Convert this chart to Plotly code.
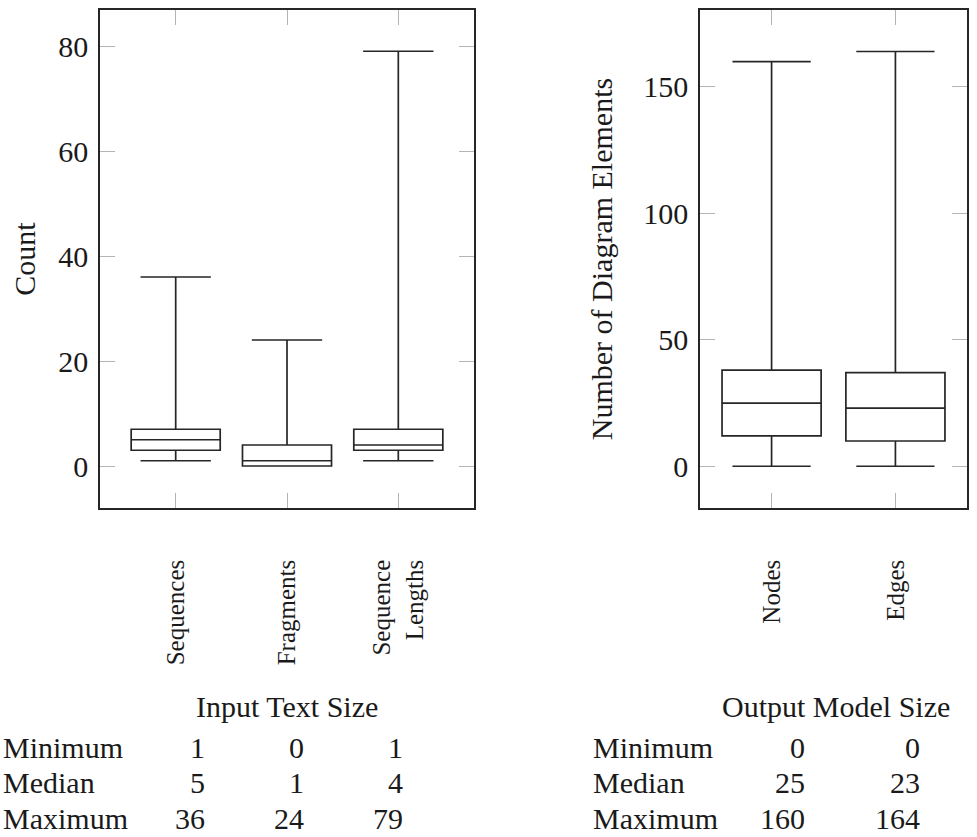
import plotly.graph_objects as go

# Input text size statistics
input_labels = ["Sequences", "Fragments", "Sequence<br>Lengths"]
input_min = [1, 0, 1]
input_q1 = [3, 0, 3]
input_median = [5, 1, 4]
input_q3 = [7, 4, 7]
input_max = [36, 24, 79]

# Output model size statistics
output_labels = ["Nodes", "Edges"]
output_min = [0, 0]
output_q1 = [12, 10]
output_median = [25, 23]
output_q3 = [38, 37]
output_max = [160, 164]

row_names = ["Minimum", "Median", "Maximum"]

W, H = 977, 837
FONT = "Liberation Serif"
INK = "#262626"
TICK = "#b4b4b4"
MAIN_SIZE = 30

fig = go.Figure()


def px_x(p):
    return p / W


def px_y(p):
    return 1 - p / H


box_style = dict(
    fillcolor="white",
    line=dict(color=INK, width=1.7),
    whiskerwidth=0.79,
    width=0.8,
    boxpoints=False,
    showlegend=False,
    hoverinfo="skip",
)

fig.add_trace(go.Box(
    x=list(range(1, len(input_labels) + 1)),
    lowerfence=input_min, q1=input_q1, median=input_median,
    q3=input_q3, upperfence=input_max,
    xaxis="x", yaxis="y", **box_style,
))
fig.add_trace(go.Box(
    x=list(range(1, len(output_labels) + 1)),
    lowerfence=output_min, q1=output_q1, median=output_median,
    q3=output_q3, upperfence=output_max,
    xaxis="x2", yaxis="y2", **box_style,
))

frame = dict(
    showline=True, linecolor=INK, linewidth=1.5, mirror="ticks",
    ticks="inside", ticklen=15, tickcolor=TICK, tickwidth=1.2,
    showgrid=False, zeroline=False, fixedrange=True,
)

y_dom = [px_y(508), px_y(10)]

fig.update_layout(
    width=W, height=H,
    margin=dict(l=0, r=0, t=0, b=0),
    paper_bgcolor="white", plot_bgcolor="white",
    font=dict(family=FONT, color="#1a1a1a", size=MAIN_SIZE),
    xaxis=dict(
        domain=[px_x(100), px_x(474)], range=[0.32, 3.68],
        tickvals=[1, 2, 3], ticktext=input_labels, tickangle=-90,
        tickfont=dict(size=25), ticklabelstandoff=40, anchor="y", **frame,
    ),
    yaxis=dict(
        domain=y_dom, range=[-8, 86.86], tickvals=[0, 20, 40, 60, 80],
        tickfont=dict(size=MAIN_SIZE), ticklabelstandoff=4, anchor="x",
        title=dict(text="Count", font=dict(size=MAIN_SIZE), standoff=14), **frame,
    ),
    xaxis2=dict(
        domain=[px_x(700), px_x(967)], range=[0.422, 2.578],
        tickvals=[1, 2], ticktext=output_labels, tickangle=-90,
        tickfont=dict(size=25), ticklabelstandoff=40, anchor="y2", **frame,
    ),
    yaxis2=dict(
        domain=y_dom, range=[-16.5, 180.4], tickvals=[0, 50, 100, 150],
        tickfont=dict(size=MAIN_SIZE), ticklabelstandoff=4, anchor="x2",
        title=dict(text="Number of Diagram Elements", font=dict(size=MAIN_SIZE), standoff=22),
        **frame,
    ),
)

annotations = []


def text(x, y, s, anchor):
    annotations.append(dict(
        x=px_x(x), y=px_y(y), xref="paper", yref="paper", text=s,
        showarrow=False, xanchor=anchor, yanchor="middle",
        font=dict(family=FONT, size=MAIN_SIZE, color="#1a1a1a"),
    ))


# Summary tables below each panel
text(287, 706, "Input Text Size", "center")
text(836, 706, "Output Model Size", "center")

row_y = [747, 782, 818]
left_cols = [207, 306, 405]
right_cols = [807, 922]
input_rows = [input_min, input_median, input_max]
output_rows = [output_min, output_median, output_max]

for name, y, vals in zip(row_names, row_y, input_rows):
    text(1, y, name, "left")
    for cx, v in zip(left_cols, vals):
        text(cx, y, str(v), "right")

for name, y, vals in zip(row_names, row_y, output_rows):
    text(591, y, name, "left")
    for cx, v in zip(right_cols, vals):
        text(cx, y, str(v), "right")

fig.update_layout(annotations=annotations)

fig.write_html("out.html")
